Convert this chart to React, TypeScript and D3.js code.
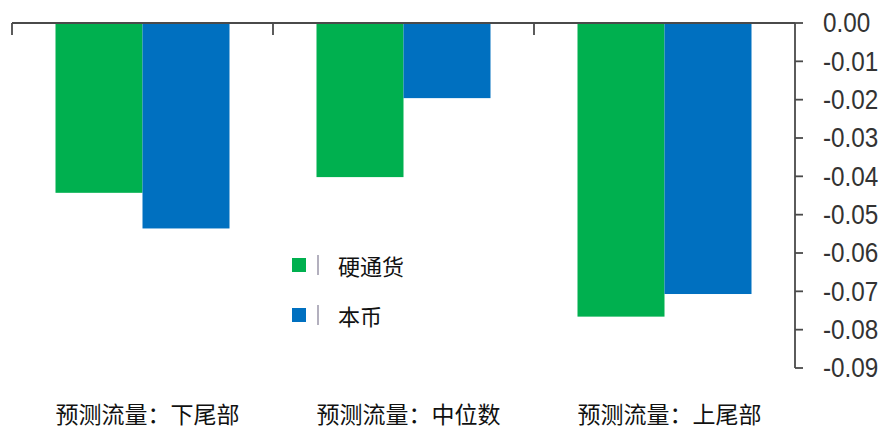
import React from "react";
import * as d3 from "d3";

const categories = ["预测流量：下尾部", "预测流量：中位数", "预测流量：上尾部"];
const seriesNames = ["硬通货", "本币"];
const hardCurrency = [-0.0443, -0.0402, -0.0766];
const localCurrency = [-0.0536, -0.0196, -0.0707];
const yTicks = [0, -0.01, -0.02, -0.03, -0.04, -0.05, -0.06, -0.07, -0.08, -0.09];
const colors = ["#00b04f", "#0070c0"];

const W = 889;
const H = 430;

export default function App() {
  const x = d3.scaleBand<string>().domain(categories).range([12, 795]).padding(0);
  const inner = d3
    .scaleBand<string>()
    .domain(seriesNames)
    .range([0, x.bandwidth()])
    .paddingOuter(0.5)
    .paddingInner(0);
  const y = d3.scaleLinear().domain([0, -0.09]).range([23, 368]);
  const series = [hardCurrency, localCurrency];
  const axisColor = "#4a4a4a";
  const fmt = (v: number) => d3.format(".2f")(v).replace("\u2212", "-");

  return (
    <svg
      width={W}
      height={H}
      style={{ position: "absolute", left: 0, top: 0, background: "#fff" }}
    >
      {/* bars */}
      {categories.map((c, i) =>
        seriesNames.map((s, j) => {
          const v = series[j][i];
          return (
            <rect
              key={c + s}
              x={(x(c) ?? 0) + (inner(s) ?? 0)}
              y={y(0)}
              width={inner.bandwidth()}
              height={y(v) - y(0)}
              fill={colors[j]}
            />
          );
        })
      )}
      {/* x axis */}
      <line x1={x.range()[0]} x2={x.range()[1]} y1={y(0)} y2={y(0)} stroke={axisColor} strokeWidth={1.8} />
      {categories.map((c) => (
        <line
          key={"xt" + c}
          x1={x(c)}
          x2={x(c)}
          y1={y(0)}
          y2={y(0) + 12}
          stroke={axisColor}
          strokeWidth={1.8}
        />
      ))}
      {/* y axis */}
      <line x1={795} x2={795} y1={y(0)} y2={y(-0.09)} stroke={axisColor} strokeWidth={1.8} />
      {yTicks.map((t) => (
        <g key={"yt" + t}>
          <line x1={795} x2={803} y1={y(t)} y2={y(t)} stroke={axisColor} strokeWidth={1.8} />
          <text
            transform={`translate(823,${y(t)}) scale(0.9,1)`}
            dominantBaseline="central"
            fontFamily="Liberation Sans, Arial, sans-serif"
            fontSize={27}
            fill="#333"
          >
            {fmt(t)}
          </text>
        </g>
      ))}
      {/* category labels */}
      {categories.map((c) => (
        <text
          key={"cl" + c}
          x={(x(c) ?? 0) + x.bandwidth() / 2 + 5}
          y={413}
          textAnchor="middle"
          dominantBaseline="central"
          fontFamily="Noto Sans CJK SC"
          fontSize={23}
          fill="#111"
        >
          {c}
        </text>
      ))}
      {/* legend */}
      {seriesNames.map((s, j) => {
        const ly = 265 + j * 50;
        return (
          <g key={"lg" + s}>
            <rect x={292} y={ly - 7} width={14} height={14} fill={colors[j]} />
            <line x1={318} x2={318} y1={ly - 10} y2={ly + 10} stroke="#9a96a8" strokeWidth={1.5} />
            <text
              x={338}
              y={ly}
              dominantBaseline="central"
              fontFamily="Noto Sans CJK SC"
              fontSize={22}
              fill="#111"
            >
              {s}
            </text>
          </g>
        );
      })}
    </svg>
  );
}
